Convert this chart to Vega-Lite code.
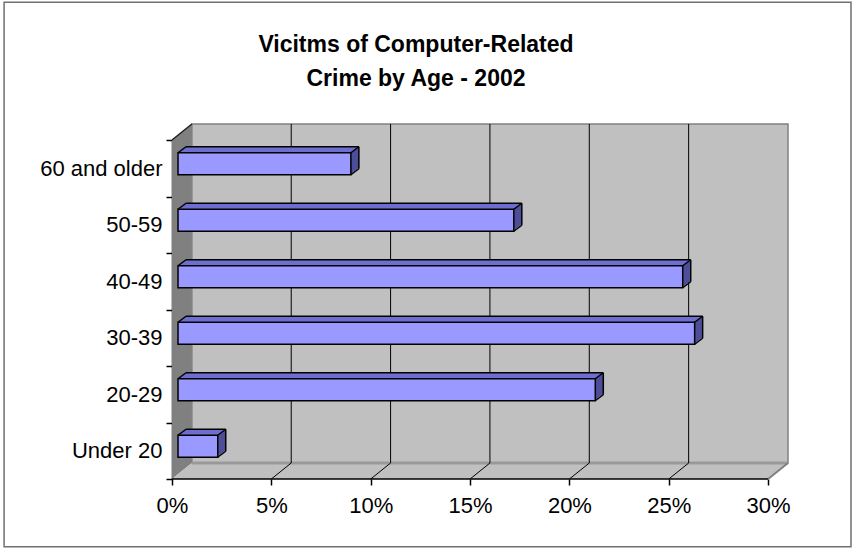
{
  "$schema": "https://vega.github.io/schema/vega-lite/v6.json",
  "width": 616,
  "height": 355,
  "autosize": {"type": "none"},
  "padding": {"left": 172, "top": 124, "right": 64, "bottom": 69},
  "background": "white",
  "config": {"view": {"stroke": null}, "axis": {"grid": false}},
  "title": {
    "text": ["Vicitms of Computer-Related", "Crime by Age - 2002"],
    "font": "Liberation Sans", "fontSize": 23, "fontWeight": "bold", "color": "black",
    "lineHeight": 34, "anchor": "middle", "frame": "group", "baseline": "bottom", "offset": -113, "dx": -64
  },
  "datasets": {
    "bars": [
      {"age": "Under 20", "pct": 2.0},
      {"age": "20-29", "pct": 21.0},
      {"age": "30-39", "pct": 26.0},
      {"age": "40-49", "pct": 25.4},
      {"age": "50-59", "pct": 16.9},
      {"age": "60 and older", "pct": 8.7}
    ],
    "grid": [{"v": 5}, {"v": 10}, {"v": 15}, {"v": 20}, {"v": 25}],
    "leftwall": [{"x": 0, "top": 6, "bot": 0}, {"x": 1, "top": 6.283, "bot": 0.283}],
    "floor": [{"x": 0, "top": 0, "bot": 0}, {"x": 1, "top": 0.283, "bot": 0}, {"x": 30, "top": 0.283, "bot": 0}, {"x": 31, "top": 0.283, "bot": 0.283}],
    "one": [{}]
  },
  "resolve": {"scale": {"y": "independent"}, "axis": {"y": "independent"}},
  "layer": [
    {
      "layer": [
        {
          "data": {"name": "leftwall"},
          "mark": {"type": "area", "orient": "vertical", "fill": "#808080"},
          "encoding": {
            "x": {"field": "x", "type": "quantitative", "title": null,
              "scale": {"domain": [0, 31], "nice": false, "zero": false},
              "axis": {"title": null, "values": [0, 5, 10, 15, 20, 25, 30], "labelExpr": "datum.value + '%'", "domain": false,
                "ticks": true, "tickColor": "black", "tickSize": 6, "tickWidth": 1.5, "labelFontSize": 22, "labelFont": "Liberation Sans",
                "labelColor": "black", "labelPadding": 10, "labelFlush": false, "grid": false}},
            "y": {"field": "top", "type": "quantitative", "axis": null, "scale": {"domain": [0, 6.283], "nice": false, "zero": false}},
            "y2": {"field": "bot"}
          }
        },
        {
          "data": {"name": "one"},
          "mark": {"type": "rect", "fill": "white", "fillOpacity": 0, "stroke": "#707070", "strokeWidth": 1.5},
          "encoding": {
            "x": {"datum": -8.45}, "x2": {"datum": 34.17},
            "y": {"datum": 8.44, "axis": null}, "y2": {"datum": -1.2}
          }
        },
        {
          "data": {"name": "one"},
          "mark": {"type": "rect", "fill": "#c0c0c0", "stroke": "#808080", "strokeWidth": 1.5},
          "encoding": {
            "x": {"datum": 1}, "x2": {"datum": 31},
            "y": {"datum": 0.283, "axis": null}, "y2": {"datum": 6.283}
          }
        },
        {
          "data": {"name": "floor"},
          "mark": {"type": "area", "orient": "vertical", "fill": "#c0c0c0"},
          "encoding": {
            "x": {"field": "x", "type": "quantitative", "title": null},
            "y": {"field": "top", "type": "quantitative", "axis": null},
            "y2": {"field": "bot"}
          }
        },
        {
          "data": {"name": "one"},
          "mark": {"type": "rule", "stroke": "#999999", "strokeWidth": 3},
          "encoding": {
            "x": {"datum": 1}, "x2": {"datum": 31},
            "y": {"datum": 0.283, "axis": null}
          }
        },
        {
          "data": {"name": "one"},
          "mark": {"type": "rule", "stroke": "#808080", "strokeWidth": 2},
          "encoding": {
            "x": {"datum": 30}, "x2": {"datum": 31},
            "y": {"datum": 0, "axis": null}, "y2": {"datum": 0.283}
          }
        },
        {
          "data": {"name": "grid"},
          "mark": {"type": "rule", "stroke": "black", "strokeWidth": 1, "xOffset": 19.87},
          "encoding": {
            "x": {"field": "v", "type": "quantitative", "title": null},
            "y": {"datum": 0.283, "axis": null}, "y2": {"datum": 6.283}
          }
        },
        {
          "data": {"name": "grid"},
          "mark": {"type": "rule", "stroke": "black", "strokeWidth": 1, "x2Offset": 19.87},
          "encoding": {
            "x": {"field": "v", "type": "quantitative", "title": null}, "x2": {"field": "v"},
            "y": {"datum": 0, "axis": null}, "y2": {"datum": 0.283}
          }
        },
        {
          "data": {"name": "one"},
          "mark": {"type": "rule", "stroke": "#202020", "strokeWidth": 1.5},
          "encoding": {
            "x": {"datum": 0}, "x2": {"datum": 1},
            "y": {"datum": 6, "axis": null}, "y2": {"datum": 6.283}
          }
        },
        {
          "data": {"name": "one"},
          "mark": {"type": "rule", "stroke": "black", "strokeWidth": 1.5},
          "encoding": {
            "x": {"datum": 0}, "x2": {"datum": 30},
            "y": {"datum": 0, "axis": null}
          }
        }
      ]
    },
    {
      "data": {"name": "bars"},
      "encoding": {
        "y": {"field": "age", "type": "nominal", "title": null,
          "scale": {"domain": ["60 and older", "50-59", "40-49", "30-39", "20-29", "Under 20"], "range": [16, 355], "paddingInner": 0, "paddingOuter": 0},
          "axis": {"title": null, "labelFontSize": 22, "labelFont": "Liberation Sans", "labelColor": "black", "tickColor": "black",
            "tickSize": 6, "tickWidth": 1.5, "domainColor": "black", "domainWidth": 1.5, "labelPadding": 4, "tickBand": "extent", "grid": false}}
      },
      "layer": [
        {
          "mark": {"type": "bar", "size": 22, "fill": "#4d4d99", "xOffset": 8, "x2Offset": 8, "yOffset": -6},
          "encoding": {"x": {"field": "pct", "type": "quantitative", "title": null}, "x2": {"datum": 0}}
        },
        {
          "mark": {"type": "bar", "size": 22, "fill": "#4d4d99", "xOffset": 10, "x2Offset": 10, "yOffset": -7.5},
          "encoding": {"x": {"field": "pct", "type": "quantitative", "title": null}, "x2": {"datum": 0}}
        },
        {
          "mark": {"type": "bar", "size": 22, "fill": "#4d4d99", "xOffset": 12, "x2Offset": 12, "yOffset": -9},
          "encoding": {"x": {"field": "pct", "type": "quantitative", "title": null}, "x2": {"datum": 0}}
        },
        {
          "mark": {"type": "bar", "size": 22, "fill": "#4d4d99", "xOffset": 14, "x2Offset": 14, "yOffset": -10.5},
          "encoding": {"x": {"field": "pct", "type": "quantitative", "title": null}, "x2": {"datum": 0}}
        },
        {
          "mark": {"type": "bar", "size": 2, "fill": "#6e6ed0", "xOffset": 7, "x2Offset": 7, "yOffset": -16.25},
          "encoding": {"x": {"field": "pct", "type": "quantitative", "title": null}, "x2": {"datum": 0}}
        },
        {
          "mark": {"type": "bar", "size": 2, "fill": "#6e6ed0", "xOffset": 9, "x2Offset": 9, "yOffset": -17.75},
          "encoding": {"x": {"field": "pct", "type": "quantitative", "title": null}, "x2": {"datum": 0}}
        },
        {
          "mark": {"type": "bar", "size": 2, "fill": "#6e6ed0", "xOffset": 11, "x2Offset": 11, "yOffset": -19.25},
          "encoding": {"x": {"field": "pct", "type": "quantitative", "title": null}, "x2": {"datum": 0}}
        },
        {
          "mark": {"type": "bar", "size": 2, "fill": "#6e6ed0", "xOffset": 13, "x2Offset": 13, "yOffset": -20.75},
          "encoding": {"x": {"field": "pct", "type": "quantitative", "title": null}, "x2": {"datum": 0}}
        },
        {
          "mark": {"type": "rule", "stroke": "black", "strokeWidth": 1.5, "xOffset": 14, "x2Offset": 14, "yOffset": -21.5},
          "encoding": {"x": {"field": "pct", "type": "quantitative", "title": null}, "x2": {"datum": 0}}
        },
        {
          "mark": {"type": "rule", "stroke": "black", "strokeWidth": 1.5, "xOffset": 14, "yOffset": -21.5, "y2Offset": 0.5},
          "encoding": {"x": {"field": "pct", "type": "quantitative", "title": null}, "y2": {"field": "age"}}
        },
        {
          "mark": {"type": "rule", "stroke": "black", "strokeWidth": 1.5, "xOffset": 6, "x2Offset": 14, "yOffset": -15.5, "y2Offset": -21.5},
          "encoding": {"x": {"datum": 0}, "x2": {"datum": 0}, "y2": {"field": "age"}}
        },
        {
          "mark": {"type": "rule", "stroke": "black", "strokeWidth": 1.5, "xOffset": 6, "x2Offset": 14, "yOffset": -15.5, "y2Offset": -21.5},
          "encoding": {"x": {"field": "pct", "type": "quantitative", "title": null}, "x2": {"field": "pct"}, "y2": {"field": "age"}}
        },
        {
          "mark": {"type": "rule", "stroke": "black", "strokeWidth": 1.5, "xOffset": 6, "x2Offset": 14, "yOffset": 6.5, "y2Offset": 0.5},
          "encoding": {"x": {"field": "pct", "type": "quantitative", "title": null}, "x2": {"field": "pct"}, "y2": {"field": "age"}}
        },
        {
          "mark": {"type": "bar", "size": 22, "fill": "#9999ff", "stroke": "black", "strokeWidth": 1.5, "xOffset": 6, "x2Offset": 6, "yOffset": -4.5},
          "encoding": {"x": {"field": "pct", "type": "quantitative", "title": null}, "x2": {"datum": 0}}
        }
      ]
    }
  ]
}
